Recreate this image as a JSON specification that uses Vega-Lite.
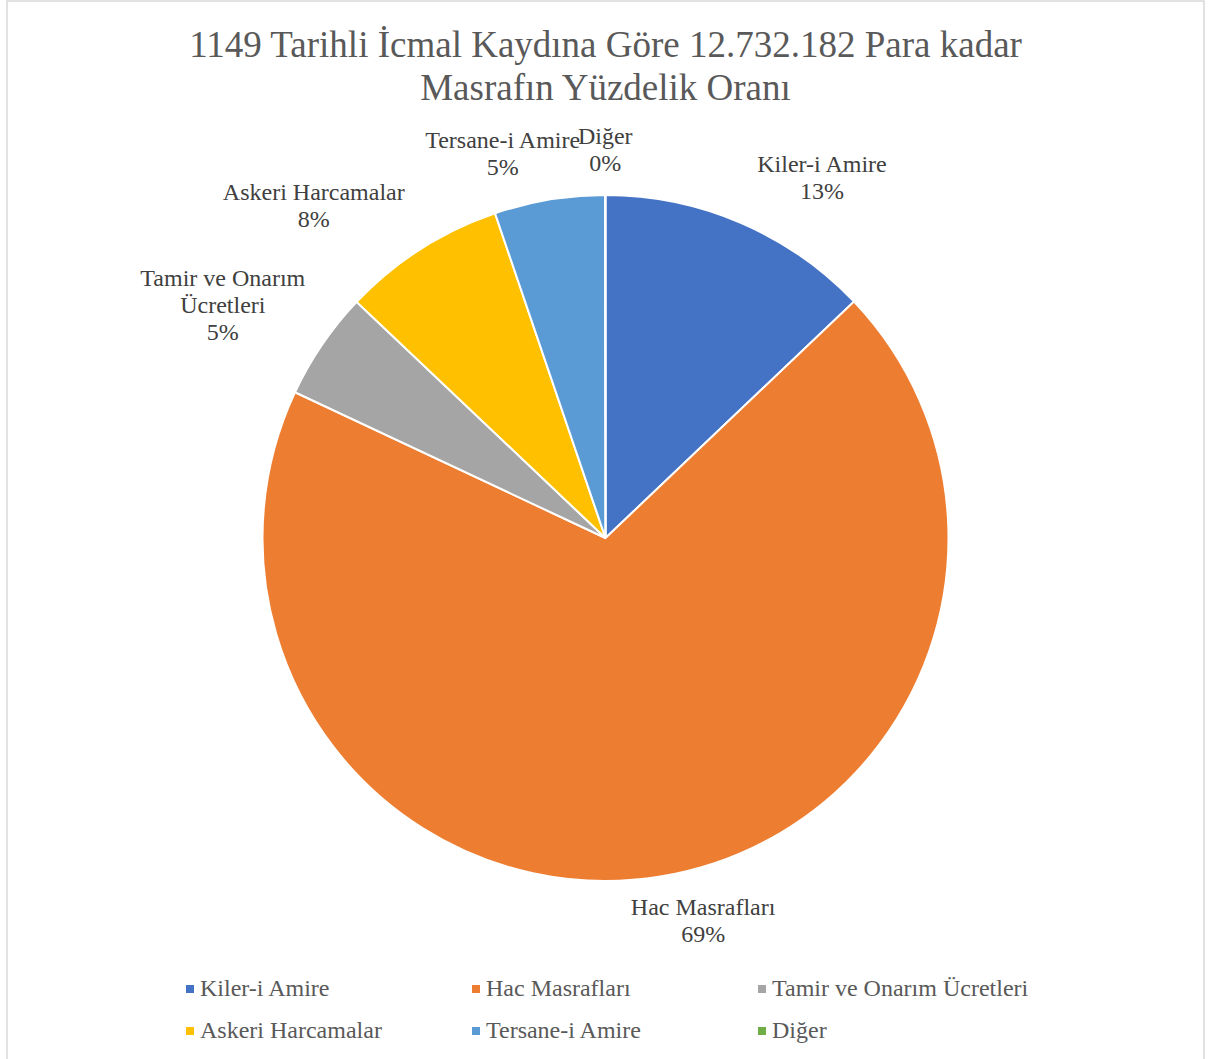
{
  "$schema": "https://vega.github.io/schema/vega-lite/v6.json",
  "width": 1197,
  "height": 1062,
  "padding": {"left": 7, "right": 9, "top": 1, "bottom": 0},
  "autosize": {"type": "none"},
  "background": "white",
  "view": {"stroke": "#D9D9D9", "strokeWidth": 1.5, "fill": "white"},
  "title": {
    "text": ["1149 Tarihli İcmal Kaydına Göre 12.732.182 Para kadar", "Masrafın Yüzdelik Oranı"],
    "font": "Liberation Serif",
    "fontSize": 37,
    "fontWeight": "normal",
    "color": "#595959",
    "lineHeight": 43,
    "anchor": "middle",
    "offset": -107
  },
  "data": {
    "values": [
      {"sira": 1, "kategori": "Kiler-i Amire", "deger": 12.9, "etiket": "Kiler-i Amire\n13%"},
      {"sira": 2, "kategori": "Hac Masrafları", "deger": 69.1, "etiket": "Hac Masrafları\n69%"},
      {"sira": 3, "kategori": "Tamir ve Onarım Ücretleri", "deger": 5.1, "etiket": "Tamir ve Onarım\nÜcretleri\n5%"},
      {"sira": 4, "kategori": "Askeri Harcamalar", "deger": 7.7, "etiket": "Askeri Harcamalar\n8%"},
      {"sira": 5, "kategori": "Tersane-i Amire", "deger": 5.2, "etiket": "Tersane-i Amire\n5%"},
      {"sira": 6, "kategori": "Diğer", "deger": 0.02, "etiket": "Diğer\n0%"}
    ]
  },
  "encoding": {
    "theta": {"field": "deger", "type": "quantitative", "stack": true},
    "order": {"field": "sira", "type": "quantitative", "sort": "ascending"},
    "color": {
      "field": "kategori",
      "type": "nominal",
      "scale": {
        "domain": ["Kiler-i Amire", "Hac Masrafları", "Tamir ve Onarım Ücretleri", "Askeri Harcamalar", "Tersane-i Amire", "Diğer"],
        "range": ["#4472C4", "#ED7D31", "#A5A5A5", "#FFC000", "#5B9BD5", "#70AD47"]
      },
      "legend": {
        "orient": "none",
        "legendX": 171,
        "legendY": 976,
        "direction": "horizontal",
        "columns": 3,
        "title": null,
        "gridAlign": "all",
        "symbolType": "square",
        "symbolSize": 64,
        "symbolStrokeWidth": 0,
        "labelFont": "Liberation Serif",
        "labelFontSize": 24,
        "labelColor": "#595959",
        "labelLimit": 500,
        "labelOffset": -2,
        "columnPadding": 7,
        "rowPadding": 18
      }
    }
  },
  "layer": [
    {
      "mark": {"type": "arc", "outerRadius": 343, "stroke": "white", "strokeWidth": 2, "yOffset": 6}
    },
    {
      "mark": {
        "type": "text",
        "radius": 358,
        "yOffset": 6,
        "font": "Liberation Serif",
        "fontSize": 24,
        "lineHeight": 27,
        "lineBreak": "\n",
        "color": "#404040",
        "align": "center",
        "baseline": "middle",
        "dx": {"expr": "5.8 * length(split(datum.etiket, '\\n')[0]) * clamp(3.1 * sin(scale('theta', (datum.deger_start + datum.deger_end) / 2)), -1, 1)"},
        "dy": {"expr": "-30 * clamp(3 * cos(scale('theta', (datum.deger_start + datum.deger_end) / 2)), -1, 1) - 13.5 * (length(split(datum.etiket, '\\n')) - 1)"}
      },
      "encoding": {
        "text": {"field": "etiket", "type": "nominal"},
        "color": {"value": "#404040"}
      }
    }
  ],
  "config": {"view": {"stroke": "#D9D9D9", "strokeWidth": 1.5}}
}
